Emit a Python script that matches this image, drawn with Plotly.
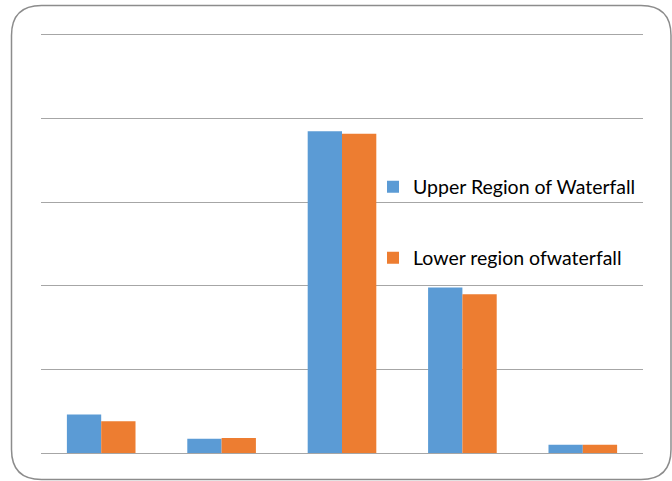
import plotly.graph_objects as go

# Sampling sites along the x axis (labels are not shown on the chart)
categories = ["Site 1", "Site 2", "Site 3", "Site 4", "Site 5"]
upper_values = [0.46, 0.17, 3.85, 1.98, 0.10]
lower_values = [0.38, 0.18, 3.82, 1.90, 0.10]
series_names = ["Upper Region of Waterfall", "Lower region ofwaterfall"]

BLUE = "#5B9BD5"
ORANGE = "#ED7D31"
GRID = "#a6a6a6"
FONT = "Lato"

W, H = 672, 481
L, R, T, B = 41, 29, 35, 28
pw, ph = W - L - R, H - T - B


def px(x):
    return (x - L) / pw


def py(y):
    return (H - B - y) / ph


fig = go.Figure()
fig.add_trace(go.Bar(x=categories, y=upper_values, name=series_names[0],
                     marker=dict(color=BLUE, line=dict(width=0)), legend="legend"))
fig.add_trace(go.Bar(x=categories, y=lower_values, name=series_names[1],
                     marker=dict(color=ORANGE, line=dict(width=0)), legend="legend2"))

# Rounded frame around the whole chart
x0, x1, y0, y1, r = 11.5, 671.0, 5.5, 479.5, 30
pts = [
    ("M", [(x0 + r, y0)]), ("L", [(x1 - r, y0)]), ("Q", [(x1, y0), (x1, y0 + r)]),
    ("L", [(x1, y1 - r)]), ("Q", [(x1, y1), (x1 - r, y1)]), ("L", [(x0 + r, y1)]),
    ("Q", [(x0, y1), (x0, y1 - r)]), ("L", [(x0, y0 + r)]), ("Q", [(x0, y0), (x0 + r, y0)]),
]
path = " ".join(cmd + " " + " ".join(f"{px(a):.5f},{py(b):.5f}" for a, b in p) for cmd, p in pts) + " Z"
fig.add_shape(type="path", path=path, xref="paper", yref="paper",
              line=dict(color="#8c8c8c", width=1.5), layer="above")

legend_style = dict(bgcolor="rgba(0,0,0,0)", borderwidth=0,
                    font=dict(family=FONT, size=19.5, color="#000000"),
                    xanchor="left", yanchor="middle", itemclick=False)

fig.update_layout(
    width=W, height=H,
    margin=dict(l=L, r=R, t=T, b=B),
    paper_bgcolor="white", plot_bgcolor="white",
    barmode="group", bargap=0.43, bargroupgap=0,
    showlegend=True,
    legend=dict(x=px(373), y=py(187), **legend_style),
    legend2=dict(x=px(373), y=py(258), **legend_style),
    # x-axis line (mirrored) gives the baseline and the top rule
    xaxis=dict(showticklabels=False, showgrid=False, zeroline=False,
               showline=True, mirror=True, linecolor=GRID, linewidth=1, ticks=""),
    yaxis=dict(range=[0, 5], dtick=1, showticklabels=False, showgrid=True,
               gridcolor=GRID, gridwidth=1, zeroline=False, ticks=""),
)

fig.write_html("out.html")
